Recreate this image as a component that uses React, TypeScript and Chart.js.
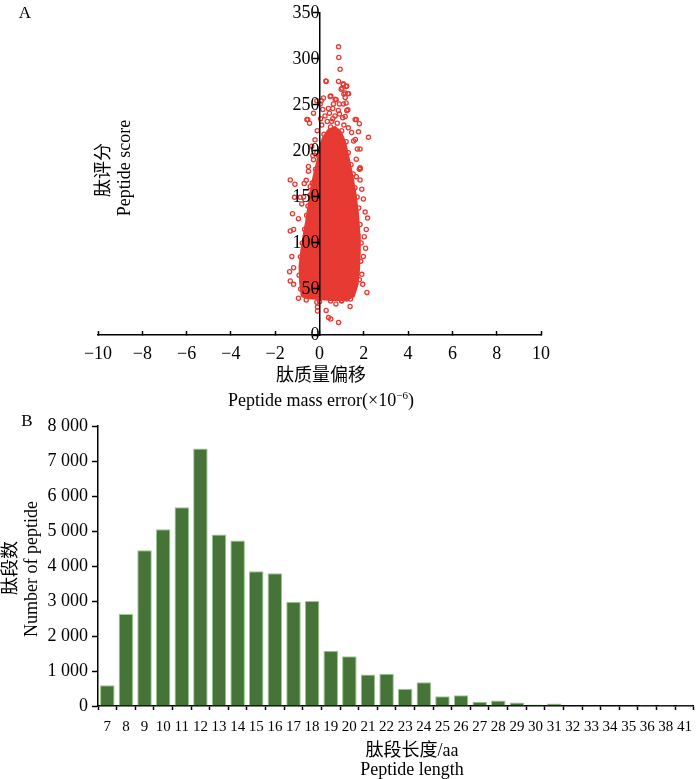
import React, { useRef, useEffect } from "react";
import { Chart, registerables } from "chart.js";

Chart.register(...registerables);

// panel A: peptide mass error (x10^-6) vs peptide score
// outline of the dense core of the cloud
const coreOutline: [number, number][] = [
  [-0.8, 42], [-0.88, 58], [-0.9, 75], [-0.82, 92], [-0.74, 105],
  [-0.6, 124], [-0.48, 143], [-0.4, 157], [-0.25, 174], [-0.1, 189],
  [0, 204], [0.15, 214], [0.4, 223], [0.7, 226], [0.95, 221],
  [1.15, 210], [1.33, 191], [1.5, 171], [1.64, 151], [1.74, 131],
  [1.8, 110], [1.82, 90], [1.78, 70], [1.72, 55], [1.55, 42],
  [1.2, 38], [0.5, 38], [0, 39], [-0.5, 40], [-0.8, 42],
];

// single points around the core
const outlierPoints: [number, number][] = [
  [0.86, 313], [0.87, 301.5], [0.93, 288.7], [0.3, 275.5], [0.86, 275.5],
  [1.08, 272], [1.23, 270.6], [1.02, 268], [1.16, 263], [1.31, 262],
  [0.51, 259.5], [0.18, 257.4], [0.71, 256], [-0.12, 254.5], [0.03, 251],
  [1.08, 251], [0.63, 251], [1.23, 244], [-0.27, 241], [-0.53, 234],
  [-0.45, 230], [1.61, 234], [1.8, 229.6], [1.76, 220.7], [2.21, 214.7],
  [1.62, 212.5], [1.83, 202], [-0.12, 198.6], [-0.27, 190.5], [-0.5, 183],
  [1.83, 181.6], [1.8, 180], [-1.32, 168.4], [1.83, 168.4], [-0.69, 164.5],
  [-1.11, 163.8], [-0.42, 161], [1.91, 158.4], [-0.87, 149.5], [-1.13, 149.5],
  [1.98, 147.7], [-0.8, 142.4], [2.06, 133.5], [-1.22, 131.7], [2.17, 127],
  [-0.95, 126.4], [2.11, 114.6], [-1.32, 112.9], [-1.17, 114.6], [2.02, 106.8],
  [2.08, 94.3], [-1.25, 85.4], [1.98, 85.4], [-1.35, 68.7], [-1.17, 73],
  [1.91, 65.9], [-1.32, 58.7], [-1.17, 55], [1.95, 55], [2.14, 46.3],
  [-0.95, 39.9], [-0.12, 35.6], [-0.09, 30.3], [-0.09, 26], [0.3, 26.7],
  [1.38, 31], [0.74, 33.8], [0.41, 18.9], [0.51, 17.4], [0.86, 13.5],
  [1.0, 37.4], [1.23, 39], [-0.57, 234], [1.66, 234], [1.54, 210.7],
  [1.71, 202], [1.66, 191], [1.84, 180.5], [1.66, 172], [1.16, 237.4],
  [1.28, 244.6], [1.2, 252], [0.9, 251], [0.75, 255.6], [0.48, 259],
  [0.08, 254.5], [0.29, 275.9], [1.07, 273], [1.2, 270], [0.98, 267],
  [1.1, 261.7], [1.28, 262.4], [1.16, 258],
];

// points along the edge of the core and in the thinner upper part
const edgePoints: [number, number][] = [
  [-0.85, 50], [-0.92, 65], [-0.86, 85], [-0.78, 100], [-0.67, 115],
  [-0.58, 130], [-0.52, 140], [-0.42, 152], [-0.33, 165], [-0.18, 180],
  [-0.05, 195], [1.8, 60], [1.86, 80], [1.88, 100], [1.83, 120],
  [1.77, 138], [1.7, 150], [1.6, 160], [1.52, 175], [1.42, 185],
  [1.3, 198], [1.2, 210], [1.0, 222], [0.2, 218], [0.5, 226],
  [0.8, 230], [0.6, 235], [0.35, 232], [-0.6, 38], [0, 36],
  [0.5, 37], [1.0, 37], [1.4, 39], [0.1, 228], [0.25, 238],
  [0.45, 241], [0.6, 246], [0.9, 240], [1.05, 236], [0.7, 238],
  [0.4, 246], [0.15, 245], [1.3, 225], [1.45, 220], [1.1, 228],
  [0.85, 244], [0.55, 232], [0.05, 235], [-0.1, 222], [-0.2, 212],
  [-0.35, 205], [-0.3, 195], [-0.5, 178], [-0.6, 168], [-0.72, 150],
];

// panel B: peptide length distribution
const lengthLabels = [
  "7", "8", "9", "10", "11", "12", "13", "14", "15", "16", "17", "18",
  "19", "20", "21", "22", "23", "24", "25", "26", "27", "28", "29", "30",
  "31", "32", "33", "34", "35", "36", "38", "41",
];
const peptideCounts = [
  590, 2630, 4450, 5050, 5680, 7360, 4900, 4730, 3850, 3790, 2980, 3000,
  1580, 1420, 900, 920, 490, 680, 280, 310, 120, 160, 100, 40,
  70, 25, 10, 6, 4, 3, 2, 2,
];

const RED = "#e63a33";
const GREEN = "#467337";
const FONT = "'Liberation Serif', 'Noto Sans CJK SC', serif";

const toXY = (pts: [number, number][]) => pts.map(([x, y]) => ({ x, y }));

const ScatterA: React.FC = () => {
  const ref = useRef<HTMLCanvasElement>(null);
  useEffect(() => {
    if (!ref.current) return;
    const tickFont = { family: FONT, size: 18 };
    const chart = new Chart(ref.current, {
      type: "scatter",
      data: {
        datasets: [
          {
            data: toXY([...outlierPoints, ...edgePoints]),
            borderColor: RED,
            backgroundColor: "rgba(255,255,255,0)",
            pointRadius: 2.1,
            borderWidth: 1.3,
            order: 0,
          },
          {
            data: toXY(coreOutline),
            showLine: true,
            fill: "shape",
            borderColor: RED,
            backgroundColor: RED,
            borderWidth: 2,
            pointRadius: 0,
            order: 1,
          } as any,
        ],
      },
      options: {
        animation: false,
        responsive: true,
        maintainAspectRatio: false,
        layout: { padding: { left: 98, right: 159, top: 7, bottom: 0 } },
        plugins: { legend: { display: false }, tooltip: { enabled: false } },
        scales: {
          x: {
            type: "linear",
            position: "bottom",
            min: -10,
            max: 10,
            afterFit: (s: any) => {
              s.height = 75;
            },
            ticks: {
              stepSize: 2,
              color: "#000",
              font: tickFont,
              padding: 12,
              maxRotation: 0,
              callback: (v: any) => (v < 0 ? "\u2212" + Math.abs(v) : String(v)),
            },
            grid: { drawOnChartArea: false, tickLength: -4, color: "#000", tickWidth: 1.5 },
            border: { color: "#000", width: 1.5 },
          },
          y: {
            type: "linear",
            position: { x: 0 } as any,
            min: 0,
            max: 350,
            ticks: { stepSize: 50, color: "#000", font: tickFont, padding: 2, z: 1 },
            grid: { drawOnChartArea: false, tickLength: 6, color: "#000", tickWidth: 1.5, z: 1 },
            border: { color: "#000", width: 1.5, z: 1 },
          },
        },
      },
    });
    return () => chart.destroy();
  }, []);
  return <canvas ref={ref} />;
};

const BarB: React.FC = () => {
  const ref = useRef<HTMLCanvasElement>(null);
  useEffect(() => {
    if (!ref.current) return;
    const chart = new Chart(ref.current, {
      type: "bar",
      data: {
        labels: lengthLabels,
        datasets: [
          {
            data: peptideCounts,
            backgroundColor: GREEN,
            borderColor: "#9cc98e",
            borderWidth: 1,
            barPercentage: 0.78,
            categoryPercentage: 1,
          },
        ],
      },
      options: {
        animation: false,
        responsive: true,
        maintainAspectRatio: false,
        layout: { padding: { left: 0, right: 1, top: 16, bottom: 0 } },
        plugins: { legend: { display: false }, tooltip: { enabled: false } },
        scales: {
          x: {
            afterFit: (s: any) => {
              s.height = 73;
            },
            ticks: {
              color: "#000",
              font: { family: FONT, size: 15 },
              autoSkip: false,
              maxRotation: 0,
              padding: 8,
            },
            grid: { drawOnChartArea: false, tickLength: 4, color: "#000", tickWidth: 1.5, offset: true },
            border: { color: "#000", width: 1.5 },
          },
          y: {
            min: 0,
            max: 8000,
            afterFit: (s: any) => {
              s.width = 98;
            },
            ticks: {
              stepSize: 1000,
              color: "#000",
              font: { family: FONT, size: 18 },
              padding: 4,
              callback: (v: any) => (v >= 1000 ? `${Math.floor(v / 1000)} 000` : String(v)),
            },
            grid: { drawOnChartArea: false, tickLength: 6, color: "#000", tickWidth: 1.5 },
            border: { color: "#000", width: 1.5 },
          },
        },
      },
    });
    return () => chart.destroy();
  }, []);
  return <canvas ref={ref} />;
};

const label = (
  text: React.ReactNode,
  x: number,
  y: number,
  size = 18,
  rotate = false
) => (
  <div
    style={{
      position: "absolute",
      left: x,
      top: y,
      transform: `translate(-50%, -50%)${rotate ? " rotate(-90deg)" : ""}`,
      whiteSpace: "nowrap",
      fontFamily: FONT,
      fontSize: size,
      lineHeight: 1,
      color: "#000",
    }}
  >
    {text}
  </div>
);

export default function App() {
  return (
    <div
      style={{
        position: "fixed",
        left: 0,
        top: 0,
        width: 700,
        height: 779,
        background: "#fff",
        overflow: "hidden",
      }}
    >
      <div style={{ position: "absolute", left: 0, top: 0, width: 700, height: 410 }}>
        <ScatterA />
      </div>
      <div style={{ position: "absolute", left: 0, top: 410, width: 700, height: 369 }}>
        <BarB />
      </div>
      {label("A", 25, 12, 17)}
      {label("肽评分", 103, 170, 18, true)}
      {label("Peptide score", 124, 168, 18, true)}
      {label("肽质量偏移", 321, 375)}
      {label(
        <span>
          Peptide mass error(×10<sup style={{ fontSize: 11, verticalAlign: 7 }}>−6</sup>)
        </span>,
        321,
        399
      )}
      {label("B", 27, 420, 17)}
      {label("肽段数", 10, 568, 18, true)}
      {label("Number of peptide", 31, 569, 18, true)}
      {label("肽段长度/aa", 412, 750)}
      {label("Peptide length", 412, 769)}
    </div>
  );
}
